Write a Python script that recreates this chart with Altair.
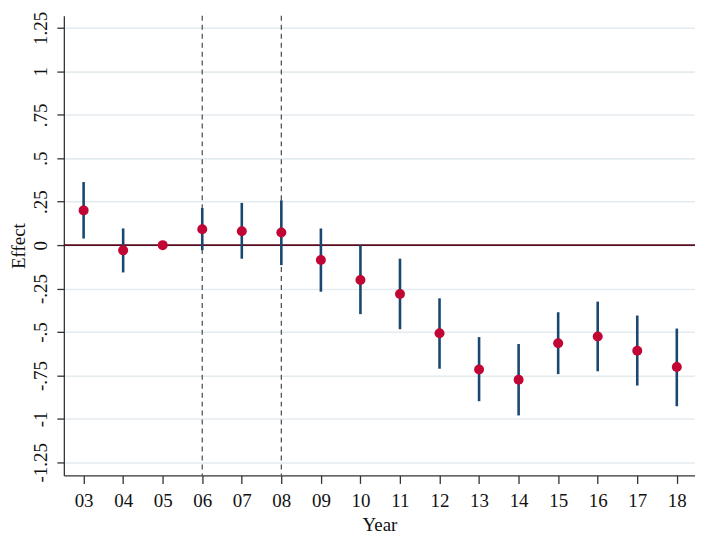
import altair as alt
import pandas as pd

years = [3, 4, 5, 6, 7, 8, 9, 10, 11, 12, 13, 14, 15, 16, 17, 18]
effect = [0.20, -0.03, 0.0, 0.092, 0.08, 0.073, -0.086, -0.20, -0.281, -0.507, -0.715, -0.774, -0.564, -0.526, -0.608, -0.701]
ci_low = [0.038, -0.157, None, -0.029, -0.078, -0.115, -0.268, -0.397, -0.484, -0.711, -0.898, -0.98, -0.742, -0.726, -0.808, -0.927]
ci_high = [0.363, 0.096, None, 0.214, 0.243, 0.258, 0.096, 0.0, -0.078, -0.306, -0.529, -0.569, -0.386, -0.325, -0.405, -0.480]
event_years = [6, 8]
y_ticks = [-1.25, -1.0, -0.75, -0.5, -0.25, 0.0, 0.25, 0.5, 0.75, 1.0, 1.25]

df = pd.DataFrame({"year": years, "effect": effect, "lo": ci_low, "hi": ci_high})
df_ci = df.dropna()
df_ev = pd.DataFrame({"year": event_years})
df_zero = pd.DataFrame({"y": [0.0]})

FONT = "Liberation Serif"

xscale = alt.Scale(domain=[2.5, 18.46], nice=False, zero=False)
yscale = alt.Scale(domain=[-1.325, 1.32], nice=False, zero=False)

xaxis = alt.Axis(
    values=years, title="Year", grid=False,
    labelExpr="datum.value < 10 ? '0' + datum.value : '' + datum.value",
    tickSize=8, labelPadding=8, titlePadding=5,
)
yaxis = alt.Axis(
    values=y_ticks, title="Effect", grid=True, gridColor="#e3ebef", gridWidth=1.6,
    labelAngle=270, labelAlign="center", labelBaseline="bottom",
    labelExpr="replace(replace(format(datum.value, '.2~f'), '\u2212', '-'), '0.', '.')",
    tickSize=7, labelPadding=6, titlePadding=3,
)

base_x = alt.X("year:Q", scale=xscale, axis=xaxis)

grid_layer = alt.Chart(df).mark_point(opacity=0).encode(
    x=base_x,
    y=alt.Y("effect:Q", scale=yscale, axis=yaxis),
)

ev = alt.Chart(df_ev).mark_rule(color="#555555", strokeDash=[5, 4], strokeWidth=1.3).encode(
    x=alt.X("year:Q", scale=xscale)
)

zero = alt.Chart(df_zero).mark_rule(color="#5c0a1e", strokeWidth=1.6).encode(
    y=alt.Y("y:Q", scale=yscale)
)

bars = alt.Chart(df_ci).mark_rule(color="#1a476f", strokeWidth=2.6).encode(
    x=alt.X("year:Q", scale=xscale),
    y=alt.Y("lo:Q", scale=yscale),
    y2="hi:Q",
)

pts = alt.Chart(df).mark_circle(color="#c10534", opacity=1, size=100).encode(
    x=alt.X("year:Q", scale=xscale),
    y=alt.Y("effect:Q", scale=yscale),
)

chart = alt.layer(grid_layer, ev, zero, bars, pts).properties(
    width=633, height=461,
    padding={"left": 56, "top": 7, "right": 0, "bottom": 62},
    autosize=alt.AutoSizeParams(type="none"),
).configure_view(stroke=None).configure_axis(
    labelFont=FONT, titleFont=FONT, labelFontSize=19, titleFontSize=19,
    labelColor="#111111", titleColor="#111111", titleFontWeight="normal",
    domainColor="#333333", domainWidth=1.3, tickColor="#333333", tickWidth=1.3,
)

chart.save("out.html", embed_options={"renderer": "svg", "actions": False})
